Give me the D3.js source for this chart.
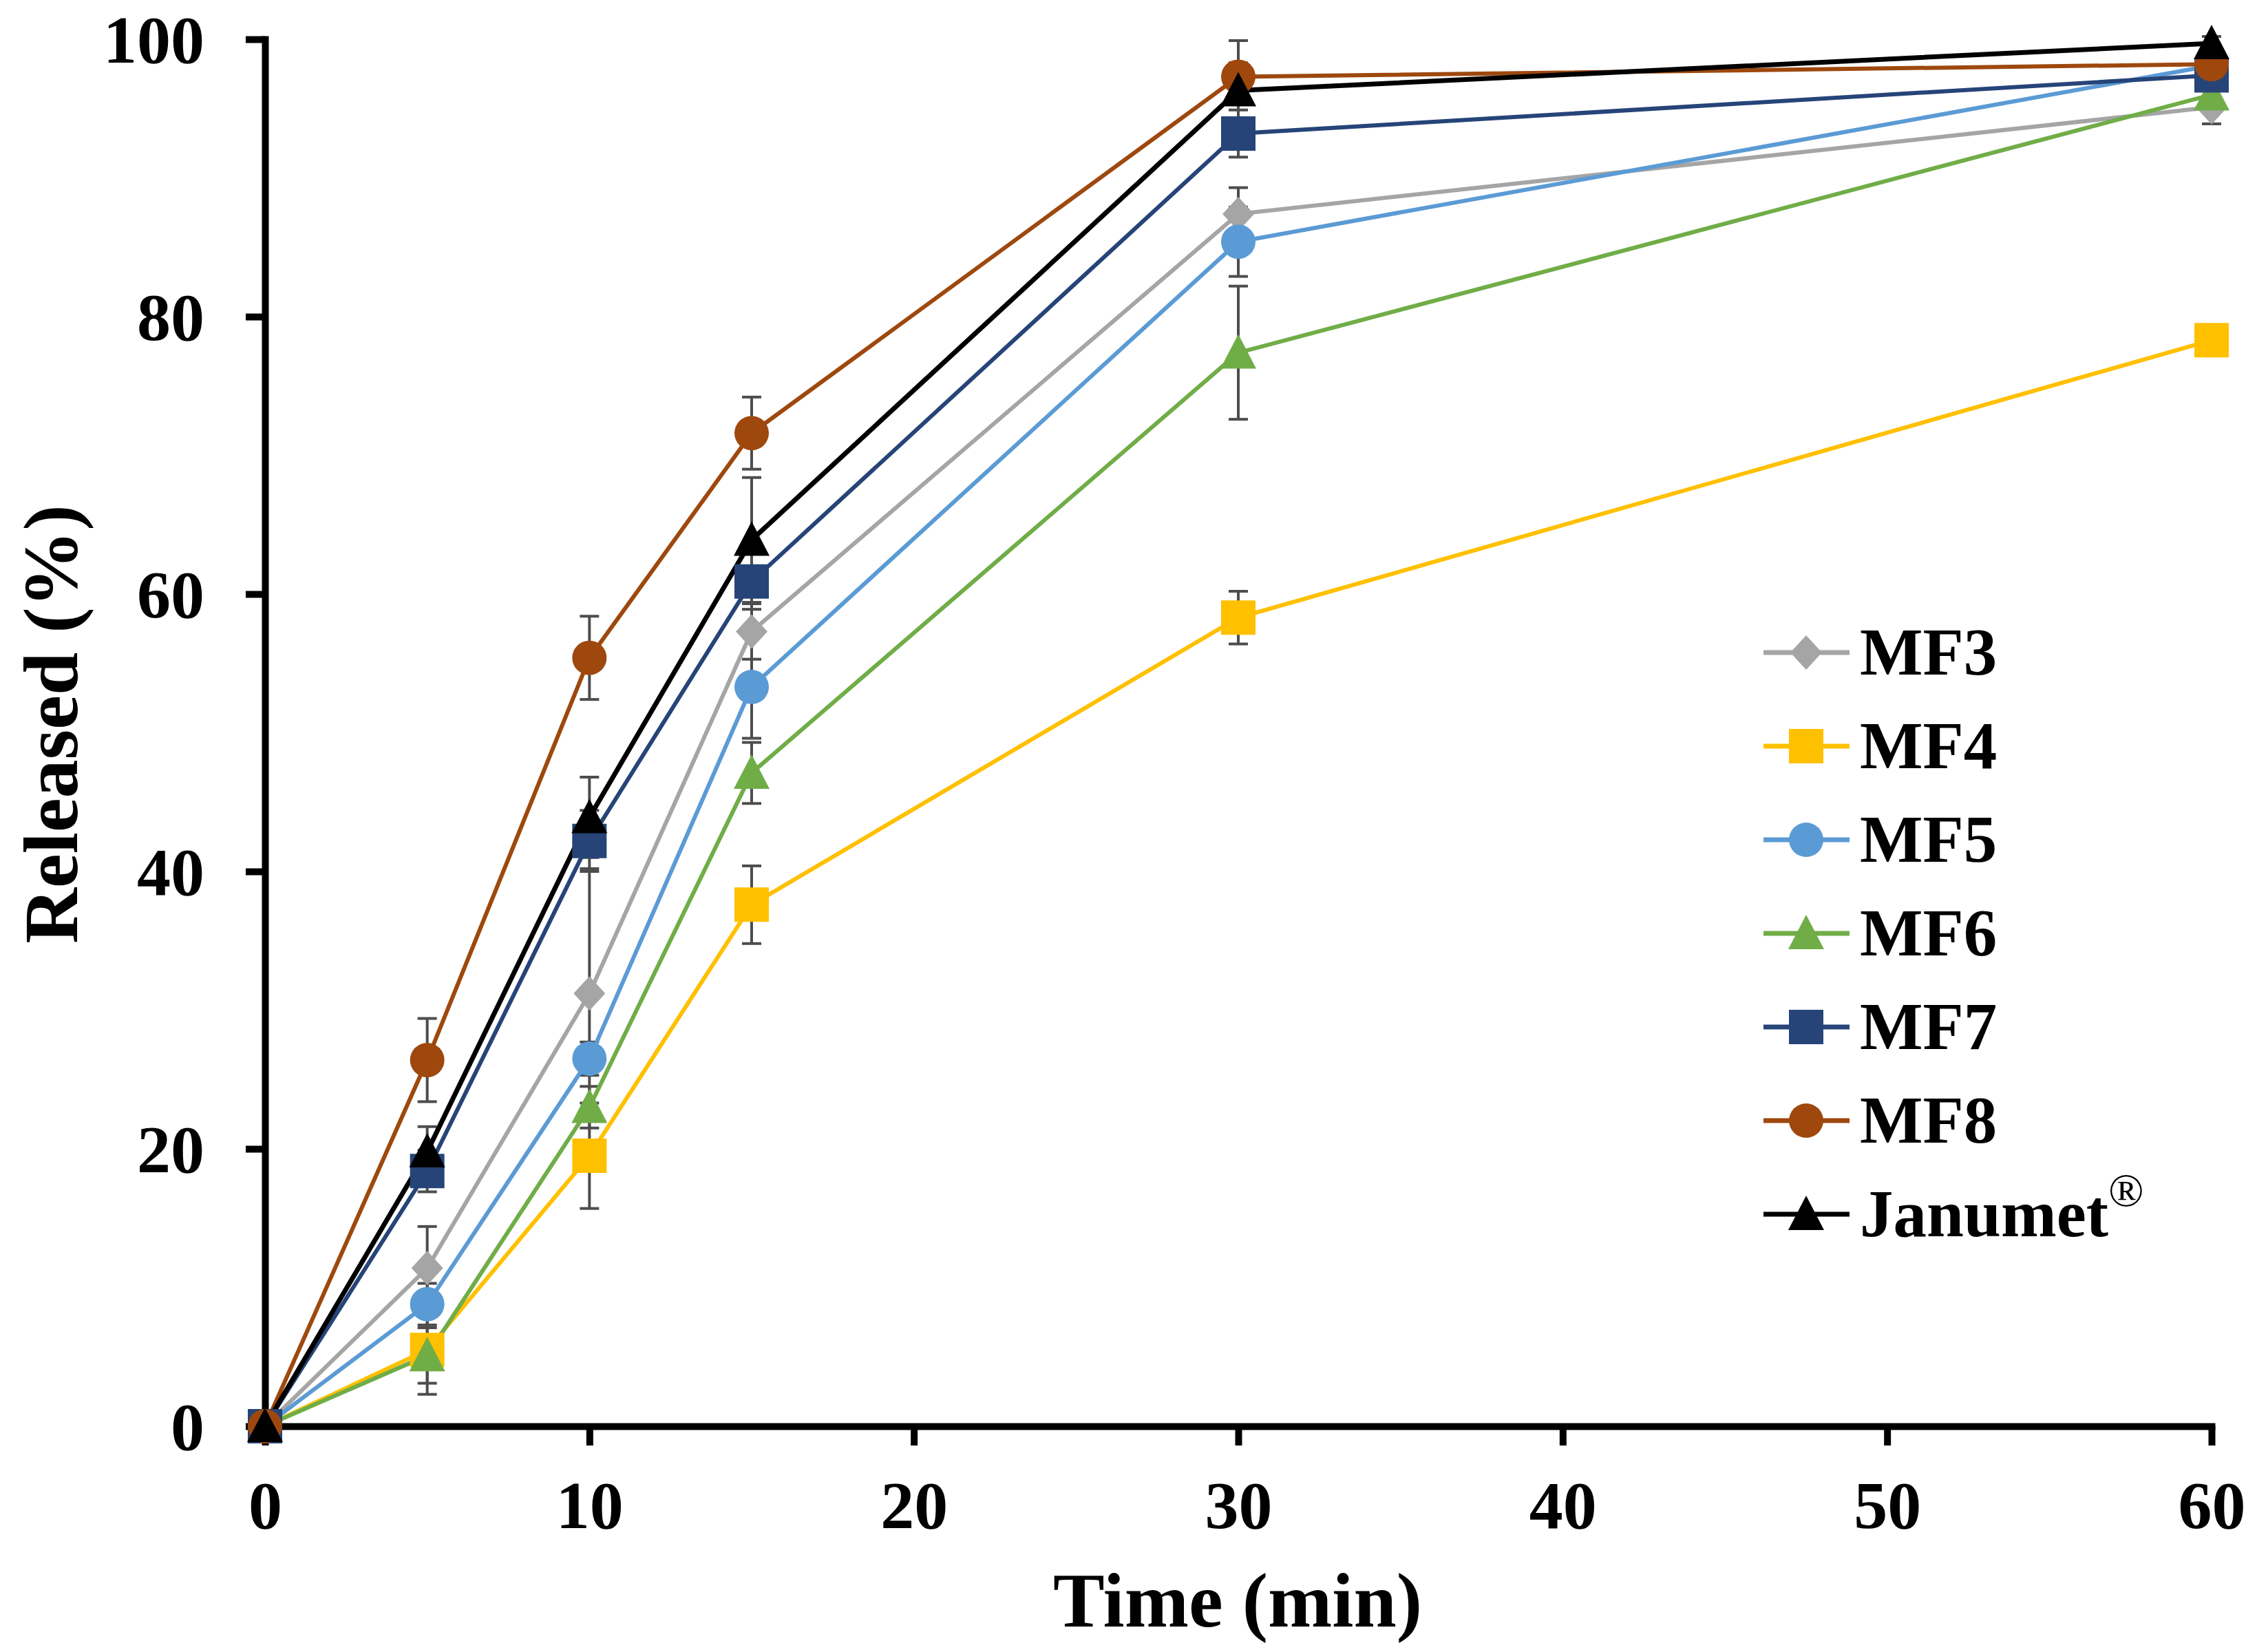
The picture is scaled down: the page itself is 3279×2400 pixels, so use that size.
<!DOCTYPE html>
<html>
<head>
<meta charset="utf-8">
<script src="https://cdn.jsdelivr.net/npm/d3@7"></script>
<style>
  body { margin: 0; background: #fff; }
  svg { display: block; }
</style>
</head>
<body>
<div id="chart"></div>
<script>
// 1. DATA
const times = [0, 5, 10, 15, 30, 60];
const seriesNames = ["MF3", "MF4", "MF5", "MF6", "MF7", "MF8", "Janumet"];

const mf3 = [0, 11.4, 31.2, 57.3, 87.4, 95.1];
const mf4 = [0, 5.5, 19.5, 37.6, 58.3, 78.3];
const mf5 = [0, 8.8, 26.5, 53.3, 85.4, 98.1];
const mf6 = [0, 5.1, 23.0, 47.1, 77.4, 96.0];
const mf7 = [0, 18.4, 42.2, 60.9, 93.2, 97.4];
const mf8 = [0, 26.4, 55.4, 71.6, 97.3, 98.2];
const janumet = [0, 19.8, 43.9, 63.9, 96.3, 99.7];

// standard deviations (error bars)
const mf3Err = [0, 3.0, 9.0, 2.0, 1.9, 1.2];
const mf4Err = [0, 3.2, 3.8, 2.8, 1.9, 0.5];
const mf5Err = [0, 1.5, 1.2, 3.7, 2.5, 0.5];
const mf6Err = [0, 2.0, 1.5, 2.2, 4.8, 0.5];
const mf7Err = [0, 1.5, 2.2, 2.0, 1.7, 0.5];
const mf8Err = [0, 3.0, 3.0, 2.6, 1.0, 0.5];
const janumetErr = [0, 1.8, 2.9, 4.5, 3.6, 0.5];

const xTicks = [0, 10, 20, 30, 40, 50, 60];
const yTicks = [0, 20, 40, 60, 80, 100];

// 2. STYLE PER SERIES
const colors = ["#A5A5A5", "#FFC000", "#5B9BD5", "#70AD47", "#264478", "#9E480E", "#000000"];
const shapes = ["diamond", "square", "circle", "triangle", "square", "circle", "triangle"];
const values = [mf3, mf4, mf5, mf6, mf7, mf8, janumet];
const errors = [mf3Err, mf4Err, mf5Err, mf6Err, mf7Err, mf8Err, janumetErr];

const series = seriesNames.map((name, i) => ({
    name: name,
    color: colors[i],
    shape: shapes[i],
    points: times.map((t, j) => ({ t: t, v: values[i][j], e: errors[i][j] }))
}));

// 3. SETUP
const width = 3279, height = 2400;
const font = "'Liberation Serif', 'Times New Roman', serif";

const svg = d3.select("#chart").append("svg")
    .attr("width", width)
    .attr("height", height)
    .style("background", "#fff");

const x = d3.scaleLinear().domain([0, 60]).range([385, 3213]);
const y = d3.scaleLinear().domain([0, 100]).range([2072, 57]);

// marker path helper
function markerPath(shape) {
    if (shape === "diamond") return "M0,-25L23,0L0,25L-23,0Z";
    if (shape === "square") return "M-25,-25H25V25H-25Z";
    if (shape === "triangle") return "M0,-27L26,23H-26Z";
    return d3.symbol().type(d3.symbolCircle).size(Math.PI * 25 * 25)();
}

// 4. AXES
const xAxis = svg.append("g")
    .attr("transform", `translate(0,${y(0)})`)
    .call(d3.axisBottom(x).tickValues(xTicks).tickSize(28).tickSizeOuter(0).tickPadding(50));

const yAxis = svg.append("g")
    .attr("transform", `translate(${x(0)},0)`)
    .call(d3.axisLeft(y).tickValues(yTicks).tickSize(28).tickSizeOuter(0).tickPadding(60));

[xAxis, yAxis].forEach(ax => {
    ax.select(".domain").attr("stroke", "#000").attr("stroke-width", 10).attr("stroke-linecap", "square");
    ax.selectAll(".tick line").attr("stroke", "#000").attr("stroke-width", 10);
    ax.selectAll(".tick text")
        .attr("fill", "#000")
        .style("font-family", font)
        .style("font-weight", "bold")
        .style("font-size", "98px");
});
yAxis.selectAll(".tick text").attr("dy", "0.34em");

// axis titles
svg.append("text")
    .attr("x", 1798)
    .attr("y", 2363)
    .attr("text-anchor", "middle")
    .style("font-family", font)
    .style("font-weight", "bold")
    .style("font-size", "112px")
    .text("Time (min)");

svg.append("text")
    .attr("transform", "translate(112,1052) rotate(-90)")
    .attr("text-anchor", "middle")
    .style("font-family", font)
    .style("font-weight", "bold")
    .style("font-size", "112px")
    .text("Released (%)");

// 5. ERROR BARS
const errG = svg.append("g").attr("stroke", "#4D4D4D").attr("stroke-width", 4).attr("fill", "none");
series.forEach(s => {
    s.points.filter(p => p.e > 0).forEach(p => {
        const cx = x(p.t), top = y(p.v + p.e), bot = y(p.v - p.e);
        errG.append("line").attr("x1", cx).attr("x2", cx).attr("y1", top).attr("y2", bot);
        errG.append("line").attr("x1", cx - 14).attr("x2", cx + 14).attr("y1", top).attr("y2", top);
        errG.append("line").attr("x1", cx - 14).attr("x2", cx + 14).attr("y1", bot).attr("y2", bot);
    });
});

// 6. LINES
const line = d3.line().x(d => x(d.t)).y(d => y(d.v));
svg.append("g").selectAll("path")
    .data(series)
    .join("path")
    .attr("d", d => line(d.points))
    .attr("fill", "none")
    .attr("stroke", d => d.color)
    .attr("stroke-width", d => d.name === "Janumet" ? 7 : 6);

// 7. MARKERS
series.forEach(s => {
    svg.append("g").selectAll("path")
        .data(s.points)
        .join("path")
        .attr("transform", d => `translate(${x(d.t)},${y(d.v)})`)
        .attr("d", markerPath(s.shape))
        .attr("fill", s.color);
});

// 8. LEGEND
const legend = svg.append("g").attr("transform", "translate(2562,948)");
series.forEach((s, i) => {
    const row = legend.append("g").attr("transform", `translate(0,${i * 136})`);
    row.append("line")
        .attr("x1", 0).attr("x2", 125)
        .attr("stroke", s.color)
        .attr("stroke-width", 7);
    row.append("path")
        .attr("transform", "translate(62,0)")
        .attr("d", markerPath(s.shape))
        .attr("fill", s.color);
    const label = row.append("text")
        .attr("x", 140)
        .attr("y", 32)
        .style("font-family", font)
        .style("font-weight", "bold")
        .style("font-size", "97px")
        .text(s.name);
    if (s.name === "Janumet") {
        label.append("tspan")
            .attr("dy", -44)
            .style("font-size", "68px")
            .style("font-weight", "normal")
            .text("®");
    }
});
</script>
</body>
</html>
